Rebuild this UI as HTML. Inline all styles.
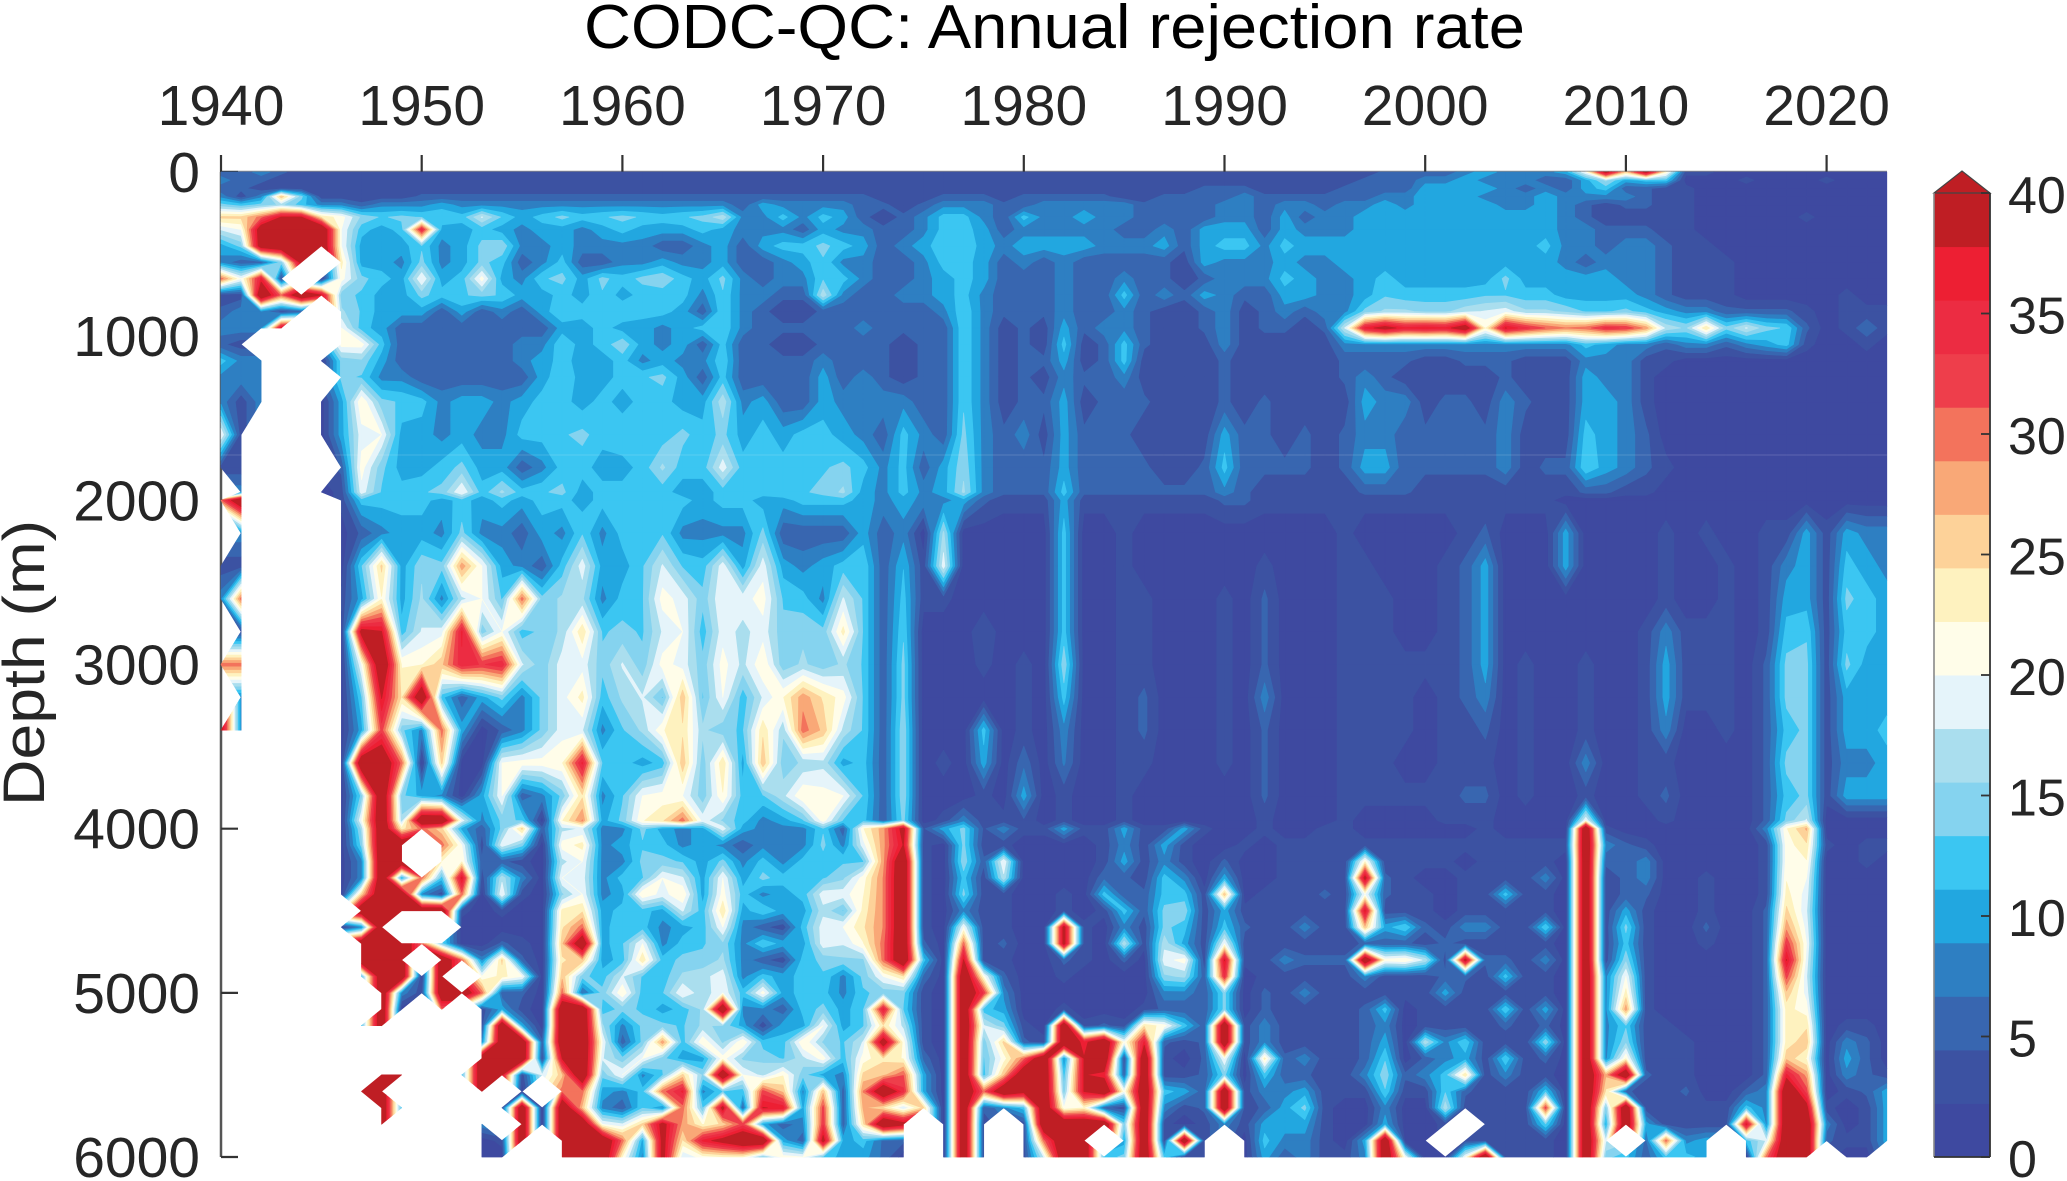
<!DOCTYPE html>
<html lang="en">
<head>
<meta charset="utf-8">
<title>CODC-QC: Annual rejection rate</title>
<style>
html,body{margin:0;padding:0;background:#fff;width:2067px;height:1181px;overflow:hidden}
svg{display:block}
text{font-family:"Liberation Sans",sans-serif;fill:#262626}
</style>
</head>
<body>
<svg id="chart" xmlns="http://www.w3.org/2000/svg" width="2067" height="1181" viewBox="0 0 2067 1181">
  <text x="1054.5" y="48" font-size="62" text-anchor="middle" textLength="941" lengthAdjust="spacingAndGlyphs" style="fill:#000">CODC-QC: Annual rejection rate</text>
  <text transform="translate(44,663) rotate(-90)" font-size="58" text-anchor="middle" textLength="286" lengthAdjust="spacingAndGlyphs">Depth (m)</text>
  <g id="axes"></g>
  <g id="field"></g>
  <g id="colorbar"></g>
</svg>
<script>
const n = null;
const startYear = 1940;
const endYear = 2023;
const depths = [0,50,100,150,200,275,350,450,550,650,750,850,950,1050,1150,1250,1400,1600,1800,1950,2000,2200,2400,2600,2800,3000,3200,3400,3600,3800,3950,4000,4100,4200,4300,4400,4500,4600,4700,4800,4900,5000,5100,5200,5300,5400,5500,5600,5700,5800,5900,6000];
const xTickYears = [1940,1950,1960,1970,1980,1990,2000,2010,2020];
const yTickDepths = [0,1000,2000,3000,4000,5000,6000];
const colorbarTicks = [0,5,10,15,20,25,30,35,40];
const colorbarMax = 40;
const bandColors = ['#3e49a0','#3c52a2','#3866b0','#2e7fc2','#22a7e0','#3bc6f2','#85d3ef','#aadeee','#e5f4fa','#fffde9','#fef2bf','#fdd299','#f9a877','#f3735c','#ee3e4b','#ec2c42','#ed1f33','#bf1e24'];
/* one row per year, values per depth; short rows are missing (white) below */
const rates = [
[5,8,5,8,14,25,18, 10,8,30,3,5,8,5,12,8,8,20,3,n,30, n,3,8,n,30,n,40],
[5,5,5,3,12,25,20, 14,5,20,3,8,8,3,8,8,3,3,3,8,45, 8,3,30,3,30,8,8],
[8,5,3,8,14,30,42, 42,5,36,45,8,8,n,8,8,8],
[5,3,3,26,16,38,45, 45,14,3,30,3,38],
[3,3,3,14,12,38,45, 45,40,n,45,5,n,42],
[3,3,3,3,8,24,45, 45,n,1,38,n,n,n,1,n,1,1,n,1],
[3,3,3,3,8,21,20, 20,23,21,14,16,20,21,14,14,10,10,5,3,3, 1,1,3,1,1,1,1,1,1,1,1, 1,1,1,1,n,1],
[3,3,3,3,5,15,12, 10,10,14,13,13,12,21,15,13,22,19,21,19,12, 5,13,10,40,20,13,10,45,14,20,16, 14,8,8,25,45,8,45,45,12,n,n,12,n,n,n,45],
[3,3,3,3,8,13,10, 10,10,12,10,10,10,12,10,8,14,20,14,13,12, 8,25,22,38,45,38,32,45,45,45,45, 45,45,45,45,45,45,45,45,45,45,45,45,n,n,45,45,45,45],
[3,3,3,3,8,14,12, 10,8,10,10,10,5,5,5,8,13,10,10,12,12, 10,10,10,12,22,24,14,30,14,16,23, 45,45,10,45,45,n,45,45,45,8,1,n,n,n,45,n,12],
[3,3,3,5,8,13,35, 13,14,20,14,10,5,5,5,5,12,10,10,13,12, 10,15,16,18,22,45,8,1,10,45,30, n,n,30,8,45,n,30,n,1,3],
[3,3,3,5,10,13,10, 8,8,10,12,5,5,5,5,5,8,8,12,14,10, 8,14,8,19,26,12,30,25,8,45,25, 30,22,12,3,45,n,14,45,45,45,30,n,n,n,n,n,5,45,5],
[3,3,3,5,8,12,10, 10,10,12,13,10,5,5,5,5,10,10,14,20,12, 14,28,17,36,35,5,10,1,1,19,10, 20,22,38,30,3,1,1,30,n,45,n,n,n,n,12],
[3,3,3,5,8,18,12, 14,14,21,14,5,5,5,5,5,10,8,10,12,10, 8,20,20,14,33,10,1,1,10,8,5, 3,5,3,1,1,1,1,8,20,30,3,3,8,45,45,45,n,8,1,1],
[3,3,3,5,8,13,10, 15,12,10,13,8,5,5,5,5,8,8,10,16,12, 8,10,13,20,35,14,5,20,20,14,14, 19,5,17,20,3,1,5,25,23,5,10,45,45,45,38,n,3,n,3,1],
[3,3,3,5,8,10,8, 8,5,8,10,5,5,8,8,5,10,12,5,12,10, 5,8,30,12,18,8,8,21,5,13,25, 14,3,8,3,1,1,3,5,20,5,3,10,45,45,3,1,45,45,45,n],
[3,3,3,5,8,12,10, 8,8,13,10,10,5,8,10,10,12,12,8,13,12, 10,5,14,14,14,14,14,21,8,1,5, 1,1,1,1,1,1,1,1,1,1,1,1,5,3,18,n,1,1,n,n],
[3,3,3,5,8,14,10, 10,12,14,12,13,10,13,12,13,12,13,12,14,12, 8,12,16,16,19,19,19,22,14,22,17, 21,17,20,15,23,24,26,24,26,30,45,45,45,38,26,30,45,45,45,45],
[3,3,3,5,8,12,8, 8,5,10,10,12,10,10,10,10,10,14,12,10,10, 13,19,16,24,19,23,18,36,24,29,18, 23,20,19,20,24,30,45,26,14,6,45,45,45,45,45,30,26,45,45,45],
[3,3,3,5,8,13,10, 8,5,14,13,13,12,12,10,10,12,12,10,12,12, 8,10,8,13,14,12,8,13,8,10,8, 8,8,8,8,10,10,10,10,12,14,12,16,20,18,14,10,8,20,45,45],
[3,3,3,5,8,14,12, 8,8,12,10,13,10,15,12,12,10,13,10,12,12, 12,10,12,14,18,16,13,12,13,14,8, 10,8,12,10,12,13,13,12,18,22,14,8,5,14,20,8,5,18,30,22],
[3,3,3,5,8,13,10, 8,8,14,12,12,10,10,8,13,12,13,12,13,12, 12,13,13,13,14,18,16,10,20,22,14, 13,14,13,22,12,12,20,24,13,12,13,14,14,20,8,12,13,25,10,8],
[3,3,3,5,8,12,10, 5,10,15,12,12,8,8,10,14,12,12,16,12,12, 13,18,21,18,21,13,22,12,21,24,10, 12,14,20,19,10,8,8,12,12,13,10,14,28,14,13,30,8,40,40,40],
[3,3,3,5,8,13,10, 5,8,12,12,10,10,10,8,10,10,14,12,10,12, 8,13,19,20,19,26,24,26,20,30,8, 8,13,18,22,18,10,12,14,16,20,12,13,12,10,25,36,30,28,24,18],
[3,3,3,5,8,14,12, 8,8,10,8,5,12,5,8,5,10,12,12,10,10, 8,12,14,12,14,13,16,14,14,19,10, 10,10,10,10,12,12,13,14,17,16,16,16,22,10,15,8,13,22,36,21],
[3,3,3,5,8,17,10, 10,10,14,13,13,13,12,13,12,17,14,19,12,12, 8,19,20,19,21,20,14,24,22,15,19, 8,14,20,21,24,20,15,16,19,20,45,15,15,21,45,13,40,25,40,22],
[3,3,3,5,5,8,8, 5,5,8,8,8,8,5,5,5,8,10,12,13,12, 8,10,19,17,17,12,13,10,12,12,10, 5,8,10,12,10,8,8,8,8,12,8,10,22,15,20,12,5,32,45,22],
[3,3,3,5,10,8,8, 10,5,5,8,5,5,5,5,5,10,12,13,12,10, 14,19,21,19,22,18,24,26,13,8,8, 8,12,14,8,13,5,13,5,12,21,8,3,12,15,17,32,38,10,45,14],
[3,3,3,5,8,12,8, 12,8,8,5,3,5,3,5,5,5,10,12,13,10, 5,10,13,14,14,22,16,14,17,10,8, 8,8,12,10,10,3,10,3,10,10,5,10,12,13,22,26,37,5,10,21],
[3,3,3,5,8,8,5, 12,10,8,5,3,5,3,5,5,5,12,13,13,12, 5,8,12,15,16,28,30,16,22,13,8, 8,12,12,12,10,12,10,12,12,12,12,10,22,17,14,8,10,8,5,20],
[3,3,3,5,8,12,10, 14,13,13,17,5,5,5,8,10,10,12,13,14,12, 5,10,8,14,14,24,26,17,21,21,13, 14,12,13,19,17,19,19,14,13,12,14,20,15,21,10,26,32,33,40,13],
[3,3,3,5,8,10,8, 12,8,12,8,5,5,5,5,5,8,10,14,16,12, 5,12,18,23,16,21,17,10,20,13,5, 8,13,15,19,13,20,18,15,8,8,10,10,13,12,8,5,5,5,10,10],
[3,3,3,5,5,5,8, 10,8,8,5,5,8,5,5,8,8,8,12,10,10, 10,13,13,13,13,13,13,12,13,12,22, 19,13,21,22,23,24,22,15,14,13,13,13,18,21,25,29,27,24,12,10],
[3,3,3,3,5,3,5, 5,5,5,5,5,5,5,5,5,8,5,8,8,8, 5,5,5,5,5,5,5,5,5,5,28, 28,28,29,29,29,29,30,30,20,14,36,24,42,24,26,45,24,45,6,6],
[3,3,3,3,3,5,5, 8,5,5,8,5,5,3,3,3,8,12,12,12,10, 8,11,12,13,14,14,15,15,15,14,40, 38,45,45,45,45,45,45,45,24,14,13,17,21,22,31,34,18,40,5,1],
[3,3,3,3,5,8,8, 10,8,8,8,5,5,5,5,5,5,8,5,8,8, 1,3,3,1,1,1,1,1,1,1,4, 3,3,3,3,3,3,5,12,6,3,3,3,3,6,10,10,25,n,n,n],
[3,3,3,5,8,12,12, 13,12,10,10,8,5,5,5,5,5,5,10,10,8, 16,19,3,1,1,1,1,3,1,3,10, 1,1,1,1,1,1,1,1,1,1,1,1,1,1,1,1,1,1,1,1],
[3,3,3,5,8,12,12, 13,12,12,12,13,13,13,13,13,13,14,15,16,10, 1,1,1,1,1,1,1,1,1,8,14, 14,15,12,14,8,20,30,38,45,45,45,45,45,45,45,45,45,45,45,45],
[3,3,3,5,8,8,10, 10,10,10,8,8,8,8,8,8,8,8,8,8,5, 1,1,1,4,3,1,12,10,3,3,4, 3,5,3,3,3,3,3,3,21,33,12,18,14,13,12,30,5,3,3,3],
[3,3,3,3,5,5,5, 8,5,5,5,5,3,3,3,3,3,5,5,5,3, 1,1,1,1,1,1,1,1,1,3,8, 3,20,17,3,3,3,5,3,5,8,10,14,25,21,26,45,8,n,n,n],
[3,3,3,5,5,12,8, 10,8,5,5,5,5,5,5,5,5,8,5,5,3, 1,1,1,1,3,3,3,6,10,4,3, 1,1,1,1,1,1,1,1,1,1,1,3,5,30,45,40,12,3,3,3],
[3,3,3,5,8,8,8, 10,5,5,5,5,3,3,5,3,5,3,5,5,3, 1,1,1,1,1,1,1,1,1,1,3, 1,1,1,1,1,1,1,1,1,1,1,1,3,45,45,45,45,45,30,18],
[3,3,3,5,8,8,8, 10,8,8,8,8,10,12,10,8,10,10,10,12,10, 12,12,12,12,15,12,8,7,3,3,10, 1,1,1,3,3,40,40,5,3,1,3,45,45,8,12,14,20,45,45,45],
[3,3,3,5,8,10,8, 10,5,5,5,5,5,3,3,5,3,5,5,5,3, 1,1,1,1,1,1,1,1,1,1,3, 1,1,1,1,1,3,3,3,1,1,1,3,36,38,38,38,22,45,45,45],
[3,3,3,5,8,8,8, 8,5,5,5,5,8,5,5,5,5,5,5,5,3, 1,1,1,1,1,1,1,1,1,1,3, 3,3,6,12,3,1,1,1,1,1,1,5,45,45,36,45,5,45,n,12],
[3,3,3,3,8,8,5, 8,5,8,12,8,8,12,12,8,5,5,5,5,3, 3,3,3,3,3,3,3,3,3,3,10, 8,10,5,5,12,8,17,5,1,1,1,3,20,3,5,20,3,14,10,14],
[3,3,3,3,5,5,5, 8,5,5,5,5,5,5,3,3,5,3,5,5,3, 1,1,3,3,3,5,5,3,1,1,3, 3,3,3,5,5,3,3,1,1,1,3,24,36,45,45,45,45,45,45,45],
[3,3,3,5,5,5,8, 10,5,5,8,3,3,3,3,3,3,3,3,5,3, 1,1,1,1,1,1,1,1,1,1,3, 10,8,12,12,14,14,17,19,15,8,5,21,5,3,3,12,8,3,3,12],
[3,3,3,5,5,5,5, 5,3,3,5,3,3,3,3,3,3,3,3,5,3, 1,1,1,1,1,1,1,1,1,1,10, 3,3,8,12,15,12,10,21,16,8,5,12,3,1,3,10,3,1,45,3],
[3,3,5,5,5,5,10, 10,10,5,10,5,5,3,3,3,3,3,5,5,3, 1,1,1,1,1,1,1,1,1,1,3, 1,1,1,3,3,3,3,3,5,5,5,5,5,5,5,5,5,3,3,3],
[3,3,5,5,8,8,10, 12,8,8,8,8,8,8,5,5,5,10,12,8,5, 1,1,3,3,3,3,3,3,1,1,1, 1,5,10,26,10,12,20,38,34,14,14,45,45,20,14,45,45,8,n,n],
[3,3,5,8,8,8,10, 12,8,8,5,3,3,3,3,3,3,5,5,5,5, 1,1,1,1,1,1,1,1,1,1,1, 3,1,1,1,3,5,3,3,1,1,1,3,3,1,1,3,3,3,1,1],
[3,3,3,5,5,5,5, 8,8,8,5,5,5,3,3,3,5,5,5,3,3, 1,3,5,5,5,8,5,5,5,3,3, 1,1,1,3,3,3,3,3,3,5,5,8,8,23,12,8,5,10,12,10],
[3,3,3,5,8,10,10, 12,10,12,10,8,5,3,3,3,3,3,5,3,3, 1,1,1,1,1,1,1,1,1,1,1, 3,3,3,3,3,3,3,8,3,3,3,3,3,5,5,8,10,10,8,5],
[3,3,3,5,8,5,8, 10,8,10,10,5,3,3,3,3,3,5,5,3,3, 1,1,1,1,1,1,1,1,1,1,1, 3,3,3,3,3,8,3,5,3,8,3,3,3,8,5,10,14,10,8,8],
[3,3,3,5,5,8,8, 10,8,8,8,8,5,3,3,3,3,3,3,3,3, 1,1,1,1,1,1,1,1,1,1,3, 3,3,3,5,3,3,3,5,3,3,3,3,3,3,3,3,3,3,3,3],
[3,3,5,5,8,8,8, 10,10,8,8,8,18,8,5,5,3,5,5,3,3, 3,3,3,3,3,3,3,3,3,3,3, 3,3,3,3,3,3,3,5,3,3,3,3,3,3,3,3,1,1,1,3],
[3,5,5,5,8,10,10, 10,10,10,10,14,36,8,5,8,10,8,10,5,3, 1,3,3,3,3,3,3,3,3,1,1, 3,22,40,20,38,26,5,45,8,3,5,5,5,5,8,3,1,1,10,8],
[5,5,5,8,10,10,10, 10,10,12,13,16,40,8,5,5,8,8,10,5,3, 1,1,3,3,3,3,3,3,3,1,1, 3,3,5,5,3,10,5,21,3,3,12,8,10,13,15,13,8,10,45,45],
[5,5,5,8,8,10,10, 10,10,10,12,16,36,8,5,3,8,5,5,5,3, 1,1,1,1,3,3,3,1,3,1,1, 3,3,3,3,3,13,5,22,3,3,1,1,1,1,5,3,1,1,1,20],
[5,8,10,10,10,10,10, 10,10,10,12,15,37,8,3,3,3,5,5,3,3, 1,1,1,1,3,1,1,1,3,1,1, 3,3,1,3,3,5,3,17,3,3,3,3,17,5,8,3,1,1,1,1],
[5,8,10,10,10,10,10, 10,10,10,12,15,36,8,3,3,5,5,5,3,3, 1,3,3,3,3,3,3,3,3,3,1, 3,3,1,1,1,3,5,3,5,10,3,3,8,8,12,13,17,3,n,1],
[8,10,10,10,10,10,10, 10,10,10,12,17,42,8,5,3,5,5,5,3,3, 3,5,5,5,5,5,3,3,5,3,1, 3,1,3,3,3,8,3,40,5,3,3,3,13,10,24,5,3,n,3,20],
[10,8,10,8,10,10,10, 10,10,10,13,18,22,8,5,3,3,5,5,3,3, 5,10,10,10,10,8,5,3,5,3,3, 3,3,3,3,3,8,3,5,3,3,3,3,3,3,3,3,3,3,3,45],
[8,8,8,8,8,10,10, 10,10,14,13,19,38,8,5,5,8,8,8,3,3, 1,1,1,1,1,1,1,1,1,1,1, 3,3,3,12,3,3,3,5,12,3,13,5,3,13,8,3,3,3,3,3],
[8,8,5,8,8,10,10, 10,10,10,12,16,34,8,3,3,5,3,3,3,3, 1,1,1,1,3,3,3,3,3,1,1, 3,3,3,3,3,3,3,3,3,3,3,3,3,3,3,3,3,3,3,3],
[8,5,8,10,10,10,10, 12,10,10,12,16,31,8,3,3,3,3,5,3,3, 1,1,1,1,1,1,1,1,1,1,1, 3,3,8,3,3,13,3,8,3,3,10,5,15,5,3,12,32,13,3,3],
[10,5,5,8,8,8,8, 8,8,10,10,15,29,8,3,3,3,3,5,3,1, 10,10,1,1,1,1,1,1,1,1,1, 3,1,1,1,1,1,1,1,1,1,1,1,1,1,1,1,1,1,1,1],
[20,10,10,8,5,5,8, 8,5,10,10,13,30,12,8,10,10,12,13,5,1, 1,1,1,1,3,3,3,8,3,20,45, 45,45,45,45,45,45,45,45,45,45,45,45,45,45,45,45,45,45,45,45],
[40,16,12,8,3,3,5, 5,8,10,10,13,34,10,8,8,10,10,10,5,1, 1,1,1,1,1,1,1,1,1,1,3, 8,5,3,3,3,3,3,3,8,8,8,8,8,8,27,24,14,10,18,14],
[25,10,5,8,5,3,5, 8,8,8,10,14,33,8,8,8,8,8,8,3,1, 1,1,1,1,1,1,1,1,1,1,1, 5,5,5,5,10,14,12,15,20,23,28,13,15,22,45,5,45,45,n,12],
[40,12,5,5,5,3,5, 8,8,8,8,12,28,8,3,3,3,5,5,3,1, 1,1,1,3,3,3,3,3,3,1,1, 3,8,8,5,3,3,3,3,3,3,3,3,3,3,5,3,3,10,6,5],
[22,12,3,3,3,3,3, 5,5,5,5,10,17,5,3,1,1,1,3,1,1, 3,3,3,8,10,10,8,3,5,3,1, 1,1,1,1,1,1,1,1,1,1,1,3,3,3,3,3,3,3,30,12],
[3,1,3,3,3,3,3, 3,3,3,3,8,15,8,1,1,1,1,1,1,1, 1,1,1,3,3,3,1,1,1,1,1, 1,1,1,1,1,1,1,1,1,1,1,1,3,3,3,5,3,3,8,12],
[3,1,1,1,1,1,1, 3,3,3,3,8,24,8,1,1,1,1,1,1,1, 3,1,1,3,3,3,1,1,1,1,1, 1,1,3,3,3,5,3,1,1,1,1,1,1,1,1,1,3,3,10,10],
[1,1,1,1,1,1,1, 1,3,3,3,5,14,5,1,1,1,1,1,1,1, 1,3,3,3,3,3,3,1,1,1,1, 1,1,1,1,1,1,1,1,1,1,1,1,1,1,1,1,3,3,n,n],
[1,3,1,1,1,1,1, 1,1,1,1,5,18,8,1,1,1,1,1,1,1, 1,1,1,1,1,1,1,1,1,1,1, 1,1,1,1,1,1,1,1,1,1,1,1,1,1,1,5,12,38,12,1],
[1,1,1,1,1,1,1, 1,1,1,1,5,14,10,1,1,1,1,1,1,1, 3,3,3,3,5,5,5,5,5,5,8, 3,3,3,3,5,5,5,5,5,5,5,5,5,5,5,8,8,8,18,30],
[1,1,1,1,1,1,1, 1,1,1,1,5,13,12,1,1,1,1,1,1,1, 3,8,10,12,14,14,12,14,12,14,22, 21,21,22,23,25,28,33,38,32,26,23,23,23,26,36,45,45,45,45,45],
[1,1,1,1,1,3,1, 1,1,1,1,3,5,3,1,1,1,1,1,1,1, 10,10,10,13,14,14,14,14,14,18,27, 24,22,20,19,18,19,20,19,18,19,21,24,26,22,28,32,40,45,45,45],
[1,3,1,1,1,1,1, 1,1,1,1,1,1,1,1,1,1,1,1,1,1, 3,3,3,3,3,3,3,3,3,1,1, 3,1,1,1,1,1,1,1,1,1,1,1,1,1,1,1,3,8,5,n],
[1,1,1,1,1,1,1, 1,1,1,3,3,3,1,1,1,1,1,1,1,1, 10,12,14,12,14,10,10,8,10,1,1, 1,1,1,1,1,1,1,1,1,1,1,3,8,10,8,3,1,1,3,1],
[1,1,1,1,1,1,1, 1,1,1,1,3,6,3,1,1,1,1,1,1,1, 8,10,12,12,10,10,10,8,10,1,1, 3,3,1,1,1,1,1,1,1,1,1,3,5,5,5,5,3,3,3,1],
[1,1,1,1,1,1,1, 1,1,1,1,3,3,1,1,1,1,1,1,1,1, 8,8,10,10,10,10,12,10,10,1,1, 3,1,1,1,1,1,1,1,1,1,1,1,1,1,3,10,10,10,10,n]
];

const svgNS = 'http://www.w3.org/2000/svg';
const xScale = year => 221 + (year - startYear) * 20.07;
const yScale = depth => 172 + depth * 0.16417;
const cbScale = value => 1157 - value * 24.1;
const bandStep = colorbarMax / bandColors.length;
const valueAt = (i, j) => {
  const v = rates[i][j];
  return v === undefined ? null : v;
};

function make(tag, parent, props) {
  const el = document.createElementNS(svgNS, tag);
  for (const k in props) el.setAttribute(k, props[k]);
  parent.appendChild(el);
  return el;
}

function clipAbove(poly, level) {
  const out = [];
  for (let i = 0; i < poly.length; i++) {
    const a = poly[i], b = poly[(i + 1) % poly.length];
    if (a[2] >= level) out.push(a);
    if ((a[2] >= level) !== (b[2] >= level)) {
      const t = (level - a[2]) / (b[2] - a[2]);
      out.push([a[0] + t * (b[0] - a[0]), a[1] + t * (b[1] - a[1]), level]);
    }
  }
  return out;
}
function clipBelow(poly, level) {
  const out = [];
  for (let i = 0; i < poly.length; i++) {
    const a = poly[i], b = poly[(i + 1) % poly.length];
    if (a[2] <= level) out.push(a);
    if ((a[2] <= level) !== (b[2] <= level)) {
      const t = (level - a[2]) / (b[2] - a[2]);
      out.push([a[0] + t * (b[0] - a[0]), a[1] + t * (b[1] - a[1]), level]);
    }
  }
  return out;
}

/* axes */
const axes = document.getElementById('axes');
const leftAxis = make('line', axes, {x1: 221, x2: 221, y1: 172, y2: 1157, stroke: '#555', 'stroke-width': 2.5});


const topAxis = make('line', axes, {x1: 221, x2: 1887, y1: 172, y2: 172, stroke: '#8a8a8a', 'stroke-width': 2.5});



xTickYears.forEach(year => {
  const tick = make('line', axes, {x1: xScale(year), x2: xScale(year), y1: 155, y2: 172, stroke: '#333', 'stroke-width': 2.2});
  
  
  const label = make('text', axes, {x: xScale(year), y: 125, 'font-size': 57, 'text-anchor': 'middle'});
  
  
  label.textContent = year;
});
yTickDepths.forEach(depth => {
  const tick = make('line', axes, {x1: 221, x2: 238, y1: yScale(depth), y2: yScale(depth), stroke: '#333', 'stroke-width': 2.2});
  
  
  const label = make('text', axes, {x: 200, y: yScale(depth) + 20, 'font-size': 57, 'text-anchor': 'end'});
  
  
  label.textContent = depth;
});

/* filled contours */
const field = document.getElementById('field');
const bandPaths = bandColors.map(() => []);
for (let i = 0; i < rates.length - 1; i++) {
  for (let j = 0; j < depths.length - 1; j++) {
    const corners = [[i, j], [i + 1, j], [i + 1, j + 1], [i, j + 1]];
    const poly = [];
    corners.forEach(c => {
      const v = valueAt(c[0], c[1]);
      if (v !== null) poly.push([xScale(startYear + c[0]), yScale(depths[c[1]]), v]);
    });
    if (poly.length < 3) continue;
    bandColors.forEach((color, b) => {
      let part = poly;
      if (b > 0) part = clipAbove(part, b * bandStep);
      if (part.length >= 3 && b < bandColors.length - 1) part = clipBelow(part, (b + 1) * bandStep);
      if (part.length >= 3) {
        bandPaths[b].push('M' + part.map(p => p[0].toFixed(1) + ' ' + p[1].toFixed(1)).join('L') + 'Z');
      }
    });
  }
}
bandColors.forEach((color, b) => {
  const path = make('path', field, {d: bandPaths[b].join(''), fill: color, stroke: color, 'stroke-width': 0.7, 'stroke-linejoin': 'round'});
  
  
});
const seam = make('line', field, {x1: 221, x2: 1887, y1: 455, y2: 455, stroke: '#ffffff', 'stroke-opacity': 0.13, 'stroke-width': 1.2});



/* colorbar */
const colorbar = document.getElementById('colorbar');
bandColors.forEach((color, b) => {
  const y1 = cbScale((b + 1) * bandStep), y0 = cbScale(b * bandStep);
  const seg = make('rect', colorbar, {x: 1934, y: y1, width: 56, height: y0 - y1 + 0.5, fill: color});
  
  
});
const cap = make('polygon', colorbar, {points: '1934,' + cbScale(colorbarMax) + ' 1962,171 1990,' + cbScale(colorbarMax), fill: bandColors[bandColors.length - 1], stroke: '#444', 'stroke-width': 1.2});


const cbLeft = make('line', colorbar, {x1: 1934, x2: 1934, y1: cbScale(colorbarMax), y2: 1157, stroke: '#888', 'stroke-width': 1.6});


const cbRight = make('line', colorbar, {x1: 1990, x2: 1990, y1: cbScale(colorbarMax), y2: 1157, stroke: '#333', 'stroke-width': 1.8});


const cbBottom = make('line', colorbar, {x1: 1934, x2: 1990, y1: 1157, y2: 1157, stroke: '#333', 'stroke-width': 1.8});


colorbarTicks.forEach(value => {
  const tick = make('line', colorbar, {x1: 1981, x2: 1990, y1: cbScale(value), y2: cbScale(value), stroke: '#333', 'stroke-width': 1.8});
  
  
  const label = make('text', colorbar, {x: 2008, y: cbScale(value) + 20, 'font-size': 52});
  
  
  label.textContent = value;
});
</script>
</body>
</html>
